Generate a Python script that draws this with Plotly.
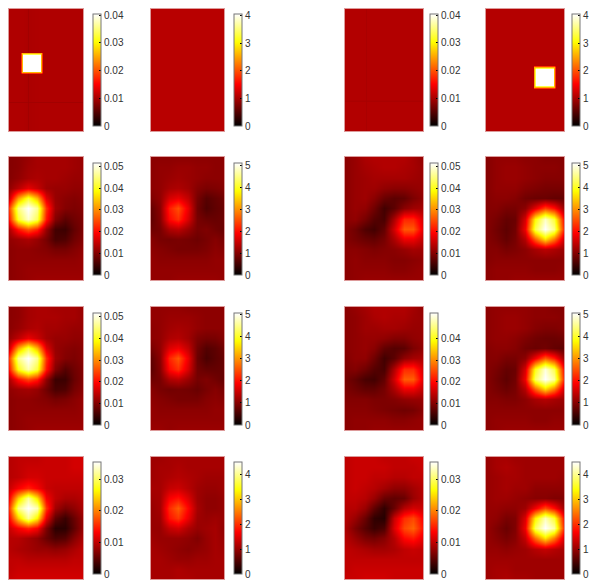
import plotly.graph_objects as go

W, H = 600, 587
HOT = [[0, '#000000'], [0.375, '#ff0000'], [0.75, '#ffff00'], [1, '#ffffff']]

# relative grid positions (left-right, top-bottom) of the sampled fields
GX = [0, .125, .25, .375, .5, .625, .75, .875, 1]
GY = [i / 12 for i in range(13)]

# --- row 1 (values x 1e-3 in column 1/3, plain in column 2/4)
r1c1_x = [0, .15, .17, .19, .25, .26, .27, .415, .435, .455, 1]
r1c1_y = [0, .35, .362, .375, .505, .518, .53, .75, .76, .77, 1]
_b = [10.4, 10.4, 10.4, 10.4, 10.2, 9.6, 10.2, 10.4, 10.4, 10.4, 10.4]
_m = [10.4, 10.4, 26, 26, 26, 26, 26, 26, 26, 10.4, 10.4]
_w = [10.4, 10.4, 26, 40.4, 40.4, 40.4, 40.4, 40.4, 26, 10.4, 10.4]
_l = [9.6, 9.6, 9.6, 9.6, 9.6, 9.4, 9.6, 9.6, 9.6, 9.6, 9.6]
r1c1 = [_b, _b, _m, _w, _w, _m, _b, _b, _l, _b, _b]
r1c2_x = [0, 1]
r1c2_y = [0, 1]
r1c2 = [[1.1, 1.1], [1.1, 1.1]]
r1c3_x = [0, .25, .267, .285, 1]
r1c3_y = [0, .74, .753, .766, 1]
r1c3 = [
 [10.6, 10.6, 10.1, 10.6, 10.6],
 [10.6, 10.6, 10.1, 10.6, 10.6],
 [10.1, 10.1, 10.0, 10.1, 10.1],
 [10.6, 10.6, 10.1, 10.6, 10.6],
 [10.6, 10.6, 10.1, 10.6, 10.6],
]
r1c4_x = [0, .60, .62, .64, .855, .875, .895, 1]
r1c4_y = [0, .462, .476, .49, .625, .64, .655, 1]
r1c4 = [
 [1.08, 1.08, 1.08, 1.08, 1.08, 1.08, 1.08, 1.08],
 [1.08, 1.08, 1.08, 1.08, 1.08, 1.08, 1.08, 1.08],
 [1.08, 1.08, 2.6, 2.6, 2.6, 2.6, 1.08, 1.08],
 [1.08, 1.08, 2.6, 4.07, 4.07, 2.6, 1.08, 1.08],
 [1.08, 1.08, 2.6, 4.07, 4.07, 2.6, 1.08, 1.08],
 [1.08, 1.08, 2.6, 2.6, 2.6, 2.6, 1.08, 1.08],
 [1.08, 1.08, 1.08, 1.08, 1.08, 1.08, 1.08, 1.08],
 [1.08, 1.08, 1.08, 1.08, 1.08, 1.08, 1.08, 1.08],
]

# --- row 2
r2c1 = [
 [10, 10.5, 11.5, 12.5, 12.5, 12.5, 12.5, 12, 11.5],
 [10, 10.5, 12, 12.5, 12.5, 12.5, 12.5, 12, 11.5],
 [10, 11, 12.5, 13, 12.5, 12.5, 12, 11.5, 11.5],
 [11, 14, 17.5, 15, 12, 11.5, 11.5, 11, 11],
 [15, 31, 41, 33, 17, 11.5, 10.5, 10, 10.5],
 [24, 45, 51.5, 46, 23, 12, 10, 9.5, 10],
 [21, 41, 49, 43, 21, 10, 7, 8.5, 9.5],
 [13, 21, 26, 22, 11.5, 5, 4.5, 7.5, 9.5],
 [11, 12, 13, 11.5, 9, 5.5, 6, 8.5, 10],
 [10.5, 11, 11, 10.5, 10, 9, 9, 10, 11],
 [10.5, 11, 11, 11, 11, 11, 11, 11, 11.5],
 [10.5, 11, 11.5, 11.5, 11.5, 11.5, 11.5, 11.5, 11.5],
 [10.5, 11, 11.5, 12, 12, 12, 12, 12, 12],
]
r2c2 = [
 [1.05, 1.05, 1.05, 1.05, 1.05, 1.05, 1.05, 1.05, 1.05],
 [1.05, 1.1, 1.1, 1.15, 1.15, 1.1, 1.1, 1.05, 1.05],
 [1.05, 1.1, 1.15, 1.2, 1.15, 1.1, 1.05, 1.05, 1.05],
 [1.05, 1.1, 1.25, 1.3, 1.2, 1.0, .92, .95, 1.0],
 [.95, 1.1, 1.6, 1.75, 1.45, .9, .65, .75, .85],
 [.75, 1.05, 2.1, 2.5, 1.75, .85, .6, .72, .8],
 [.72, 1.0, 1.95, 2.25, 1.6, .9, .8, .78, .82],
 [.82, .9, 1.3, 1.4, 1.15, .9, .95, .85, .78],
 [1.0, .9, .88, .92, .88, .82, .9, 1.0, .9],
 [1.05, 1.0, .95, .9, .9, .9, .95, 1.05, 1.0],
 [1.1, 1.05, 1.05, 1.05, 1.05, 1.05, 1.05, 1.1, 1.1],
 [1.1, 1.1, 1.1, 1.1, 1.1, 1.1, 1.1, 1.1, 1.1],
 [1.1, 1.1, 1.1, 1.15, 1.15, 1.15, 1.15, 1.15, 1.1],
]
r2c3 = [
 [10.5, 11.5, 13, 13.5, 13.5, 13.5, 13.5, 12.5, 11],
 [10.5, 11.5, 12.5, 13, 13.5, 13.5, 13, 12.5, 11.5],
 [10.5, 11.5, 12, 12.5, 12.5, 12.5, 12.5, 12, 11.5],
 [10.5, 11.5, 12, 12, 11, 10.5, 10.5, 11, 11.5],
 [10.5, 11.5, 12, 10.5, 8, 7, 7.5, 9.5, 11],
 [10.5, 11.5, 11, 8.5, 5, 7, 10.5, 12, 12.5],
 [10.5, 11, 9, 6.5, 5.5, 13, 22, 22, 16],
 [10, 8.5, 6, 5, 7.5, 16, 26, 26, 17],
 [10, 9, 8, 7.5, 9, 13, 18, 18, 14.5],
 [10.5, 10.5, 10, 9.5, 10, 10.5, 11.5, 12.5, 12],
 [10.5, 11, 10.5, 10.5, 10.5, 10, 10, 10.5, 11],
 [10.5, 11, 11, 11, 11, 10.5, 10.5, 11, 11.5],
 [10.5, 11, 11.5, 11.5, 11.5, 11.5, 11.5, 11.5, 11.5],
]
r2c4 = [
 [1.0, 1.1, 1.1, 1.1, 1.05, 1.05, 1.0, 1.0, 1.0],
 [1.0, 1.1, 1.15, 1.15, 1.1, 1.05, 1.05, 1.05, 1.0],
 [1.0, 1.1, 1.15, 1.15, 1.1, 1.05, 1.0, 1.0, 1.0],
 [1.0, 1.1, 1.1, 1.1, 1.0, .95, .9, .9, .9],
 [1.0, 1.05, 1.05, 1.0, .85, .8, .8, .75, .75],
 [1.0, 1.0, .9, .9, 1.05, 1.7, 2.4, 2.0, 1.15],
 [1.0, .9, .75, .8, 1.6, 3.8, 4.8, 4.1, 1.9],
 [1.0, .85, .7, .85, 1.8, 4.2, 5.1, 4.5, 2.1],
 [1.0, .9, .75, .9, 1.35, 2.6, 3.6, 2.8, 1.5],
 [1.0, 1.0, .9, .95, 1.05, 1.25, 1.4, 1.3, 1.15],
 [1.0, 1.05, 1.05, 1.05, 1.05, 1.05, 1.05, 1.05, 1.05],
 [1.05, 1.1, 1.1, 1.1, 1.1, 1.05, 1.05, 1.05, 1.1],
 [1.05, 1.1, 1.1, 1.15, 1.15, 1.15, 1.15, 1.15, 1.15],
]

# --- row 3
r3c1 = [
 [10.5, 11, 12.5, 13, 13, 12.5, 12.5, 12.5, 11.5],
 [10.5, 11, 12.5, 13, 13, 13, 12.5, 12.5, 11.5],
 [10.5, 11.5, 13, 13.5, 12.5, 12.5, 12, 11.5, 11.5],
 [11.5, 14.5, 18, 15.5, 12.5, 11.5, 11.5, 11, 11],
 [15.5, 32, 42, 33, 17, 11.5, 10.5, 10, 10.5],
 [24, 46, 51.8, 46, 23, 12, 10, 9.5, 10.5],
 [21, 40, 48, 42, 21, 10, 6.5, 8.5, 10],
 [13, 20.5, 25, 21.5, 11, 4.5, 4.5, 8, 10],
 [11, 12, 12.5, 11.5, 8.5, 5.5, 6, 9, 10.5],
 [10.5, 11, 11, 10.5, 10, 9, 9.5, 10.5, 11.5],
 [10.5, 11, 11, 11, 11, 11, 11, 11, 11.5],
 [10.5, 11, 11.5, 11.5, 11.5, 11.5, 11.5, 11.5, 11.5],
 [10.5, 11, 11.5, 12, 12, 12, 12, 12, 12],
]
r3c2 = [
 [1.1, 1.1, 1.1, 1.1, 1.05, 1.05, 1.05, 1.05, 1.05],
 [1.1, 1.1, 1.15, 1.15, 1.15, 1.1, 1.05, 1.05, 1.05],
 [1.05, 1.1, 1.2, 1.25, 1.2, 1.1, 1.05, 1.05, 1.05],
 [1.05, 1.1, 1.3, 1.35, 1.2, .95, .88, .9, 1.0],
 [.9, 1.1, 1.65, 1.8, 1.45, .85, .62, .7, .85],
 [.72, 1.05, 2.15, 2.55, 1.75, .8, .55, .68, .78],
 [.68, 1.0, 1.95, 2.25, 1.6, .85, .75, .75, .78],
 [.82, .9, 1.3, 1.4, 1.15, .88, .95, .85, .75],
 [1.0, .9, .85, .88, .85, .78, .9, 1.0, .9],
 [1.05, 1.0, .95, .9, .9, .9, 1.0, 1.05, 1.0],
 [1.1, 1.05, 1.05, 1.05, 1.05, 1.05, 1.05, 1.1, 1.1],
 [1.1, 1.1, 1.1, 1.1, 1.1, 1.1, 1.1, 1.1, 1.1],
 [1.15, 1.15, 1.1, 1.15, 1.15, 1.15, 1.15, 1.15, 1.15],
]
r3c3 = [
 [10.5, 11.5, 12.5, 13.5, 13.5, 13.5, 13.5, 12.5, 11],
 [10.5, 11, 12, 13, 13.5, 13, 13, 12, 11.5],
 [10.5, 11, 12, 12, 12.5, 12.5, 12, 11.5, 11.5],
 [10.5, 11, 11.5, 11.5, 11, 10, 10, 11, 11.5],
 [10.5, 11, 11.5, 10.5, 7.5, 6.5, 7, 9.5, 11],
 [10, 11, 11, 8.5, 5, 7, 11, 12.5, 13],
 [9.5, 10, 8.5, 6.5, 5.5, 13.5, 22.5, 22.5, 16],
 [9, 7.5, 5.5, 5, 7.5, 16, 26.5, 26.5, 17],
 [9.5, 8.5, 7.5, 7.5, 9, 13, 18, 18, 14.5],
 [10, 10, 10, 9.5, 9.5, 10, 11, 11.5, 11.5],
 [10.5, 10.5, 10.5, 10, 9.5, 9, 8.5, 9, 10.5],
 [10.5, 11, 11, 11, 11, 10.5, 10.5, 11, 11.5],
 [10.5, 11, 11, 11.5, 11.5, 11.5, 11.5, 11.5, 11.5],
]
r3c4 = [
 [1.05, 1.1, 1.1, 1.1, 1.1, 1.05, 1.05, 1.0, 1.0],
 [1.05, 1.1, 1.15, 1.15, 1.1, 1.05, 1.05, 1.05, 1.0],
 [1.05, 1.1, 1.15, 1.15, 1.1, 1.0, .95, .95, 1.0],
 [1.05, 1.1, 1.1, 1.05, .95, .85, .8, .8, .85],
 [1.0, 1.05, 1.05, 1.0, .85, .8, .85, .75, .7],
 [1.0, 1.0, .9, .9, 1.05, 1.8, 2.6, 2.1, 1.15],
 [1.0, .9, .75, .8, 1.6, 3.9, 4.9, 4.2, 1.9],
 [1.0, .85, .7, .85, 1.8, 4.3, 5.08, 4.6, 2.1],
 [1.0, .9, .8, .9, 1.35, 2.6, 3.5, 2.8, 1.5],
 [1.0, 1.0, .95, .95, 1.05, 1.25, 1.35, 1.25, 1.15],
 [1.05, 1.05, 1.05, 1.05, 1.05, 1.05, 1.05, 1.05, 1.05],
 [1.05, 1.1, 1.1, 1.1, 1.1, 1.05, 1.05, 1.1, 1.1],
 [1.05, 1.1, 1.15, 1.15, 1.15, 1.15, 1.15, 1.15, 1.15],
]

# --- row 4
r4c1 = [
 [9.5, 10, 10, 10, 10.5, 10.5, 10.5, 11, 11],
 [9.5, 10, 10.5, 10.5, 10.5, 10.5, 10.5, 11, 11],
 [9.5, 10, 11, 11, 10.5, 10.5, 10.5, 10.5, 10.5],
 [10.5, 13, 15, 13, 10.5, 10, 10, 10, 10],
 [13, 24, 32, 25, 13, 10, 9, 9, 9.5],
 [16, 31.5, 35.5, 33, 16, 8.5, 6.5, 7.5, 9],
 [13.5, 24, 32, 26, 12, 5, 3, 5.5, 8],
 [10.5, 13, 15, 13, 6.5, 2.2, 2.2, 5, 8],
 [9.5, 9.5, 8.5, 7.5, 5.5, 4, 4.5, 7, 9],
 [9.5, 9, 8.5, 8, 8, 7.5, 8, 9, 10],
 [10, 10, 9.5, 9.5, 9.5, 9.5, 9.5, 10, 10],
 [10, 10.5, 10.5, 10.5, 10.5, 10.5, 10.5, 10.5, 10.5],
 [10.5, 11, 11, 11, 11, 11, 11, 11, 11],
]
r4c2 = [
 [1.05, 1.05, 1.1, 1.1, 1.1, 1.1, 1.1, 1.1, 1.1],
 [1.05, 1.1, 1.1, 1.15, 1.1, 1.1, 1.1, 1.1, 1.1],
 [1.05, 1.1, 1.15, 1.2, 1.15, 1.1, 1.05, 1.05, 1.05],
 [1.1, 1.1, 1.3, 1.35, 1.2, 1.05, 1.0, 1.0, 1.05],
 [1.05, 1.1, 1.65, 1.8, 1.45, 1.05, .95, .95, 1.0],
 [1.0, 1.1, 1.95, 2.3, 1.7, 1.1, .95, .95, 1.0],
 [1.0, 1.05, 1.8, 2.05, 1.55, 1.05, 1.0, 1.05, 1.0],
 [1.0, 1.0, 1.3, 1.4, 1.15, 1.0, 1.05, 1.1, .95],
 [1.05, 1.0, 1.0, 1.0, .95, .85, 1.0, 1.1, 1.0],
 [1.1, 1.05, 1.0, .95, .9, .95, 1.0, 1.1, 1.05],
 [1.1, 1.1, 1.05, 1.0, 1.0, 1.05, 1.05, 1.1, 1.1],
 [1.1, 1.1, 1.1, 1.15, 1.1, 1.1, 1.1, 1.1, 1.1],
 [1.1, 1.1, 1.1, 1.15, 1.15, 1.1, 1.1, 1.1, 1.1],
]
r4c3 = [
 [10, 10.5, 10.5, 10.5, 10, 10, 10, 10.5, 10.5],
 [10, 10.5, 10.5, 10.5, 10.5, 10, 10, 10, 10.5],
 [10, 10.5, 10.5, 10, 10, 9.5, 9.5, 10, 10],
 [10, 10.5, 10, 9.5, 8.5, 7.5, 7.5, 8.5, 9.5],
 [10, 10, 9.5, 8, 5.5, 5, 5.5, 8, 9.5],
 [9.5, 9.5, 8, 5, 2.5, 5.5, 9.5, 11, 10.5],
 [9.5, 8, 5.5, 2.5, 2, 10.5, 15.5, 17, 13],
 [9, 6.5, 4.5, 3, 4, 11.5, 17, 18.5, 14],
 [9.5, 8, 6.5, 6, 7, 9.5, 13.5, 14.5, 12],
 [10, 9.5, 9, 8.5, 8.5, 9, 10, 10.5, 10],
 [10, 10, 10, 10, 10, 10, 10, 10, 10],
 [10, 10.5, 10.5, 10.5, 10.5, 10.5, 10.5, 10.5, 10.5],
 [10.5, 10.5, 11, 11, 11, 10.5, 10.5, 10.5, 10.5],
]
r4c4 = [
 [1.0, 1.1, 1.1, 1.05, 1.05, 1.05, 1.05, 1.05, 1.05],
 [1.0, 1.1, 1.15, 1.1, 1.05, 1.05, 1.05, 1.05, 1.05],
 [1.0, 1.05, 1.1, 1.1, 1.05, 1.05, 1.05, 1.05, 1.0],
 [1.0, 1.05, 1.1, 1.05, 1.05, .95, .95, .95, .95],
 [1.0, 1.05, 1.05, 1.0, .95, .9, .9, .85, .85],
 [1.0, 1.0, .95, .95, 1.05, 1.6, 2.2, 1.75, 1.05],
 [1.0, .95, .8, .85, 1.45, 3.3, 4.2, 3.6, 1.7],
 [1.0, .85, .7, .85, 1.6, 3.8, 4.51, 4.1, 1.9],
 [1.0, .9, .8, .9, 1.3, 2.4, 3.2, 2.5, 1.4],
 [1.0, 1.0, .95, 1.0, 1.05, 1.2, 1.3, 1.2, 1.1],
 [1.05, 1.05, 1.05, 1.05, 1.05, 1.05, 1.05, 1.05, 1.05],
 [1.05, 1.1, 1.1, 1.05, 1.05, 1.05, 1.05, 1.05, 1.05],
 [1.05, 1.1, 1.15, 1.1, 1.1, 1.05, 1.05, 1.05, 1.05],
]

FIELDS = [r1c1, r1c2, r1c3, r1c4,
          r2c1, r2c2, r2c3, r2c4,
          r3c1, r3c2, r3c3, r3c4,
          r4c1, r4c2, r4c3, r4c4]
GRIDS_X = [r1c1_x, r1c2_x, r1c3_x, r1c4_x] + [GX] * 12
GRIDS_Y = [r1c1_y, r1c2_y, r1c3_y, r1c4_y] + [GY] * 12

# scale of the colour bars (same units as the fields)
TOPS = [40.4, 4.07, 40.4, 4.07,
        51.5, 5.1, 51.5, 5.1,
        51.8, 5.08, 51.8, 5.08,
        35.5, 4.51, 35.5, 4.51]
TICKS_MILLI = [[0, 10, 20, 30, 40], [0, 10, 20, 30, 40, 50], [0, 10, 20, 30, 40, 50],
               [0, 10, 20, 30]]
TICKS_MILLI_R3C3 = [0, 10, 20, 30, 40]
TICKS_ONE = [[0, 1, 2, 3, 4], [0, 1, 2, 3, 4, 5], [0, 1, 2, 3, 4, 5], [0, 1, 2, 3, 4]]

# page layout in pixels: (left, right) and (top, bottom)
PANEL_X = [(9, 83), (151, 224), (345, 423), (486, 564)]
PANEL_Y = [(9, 131), (157, 280), (307, 430), (457, 579)]
BAR_X = [93, 234, 430, 572]
BAR_Y = [(14, 126), (163.5, 275), (313, 425), (462, 574)]

fig = go.Figure()
layout = {}
for idx, z in enumerate(FIELDS):
    r, c = idx // 4, idx % 4
    name = '' if idx == 0 else str(idx + 1)
    x0, x1 = PANEL_X[c]
    y0, y1 = PANEL_Y[r]
    milli = c in (0, 2)
    if milli:
        vals = TICKS_MILLI_R3C3 if (r, c) == (2, 2) else TICKS_MILLI[r]
        text = ['0' if v == 0 else f'{v / 1000:g}' for v in vals]
    else:
        vals = TICKS_ONE[r]
        text = [str(v) for v in vals]
    by0, by1 = BAR_Y[r]
    fig.add_trace(go.Heatmap(
        z=z, x=GRIDS_X[idx], y=GRIDS_Y[idx], xaxis=f'x{name}', yaxis=f'y{name}',
        zmin=0, zmax=TOPS[idx], colorscale=HOT, zsmooth='best', hoverinfo='skip',
        colorbar=dict(
            x=BAR_X[c] / W, xanchor='left', y=1 - by1 / H, yanchor='bottom',
            len=by1 - by0, lenmode='pixels', thickness=8, thicknessmode='pixels',
            xpad=0, ypad=0, outlinecolor='#777777', outlinewidth=1, borderwidth=0,
            tickmode='array', tickvals=vals, ticktext=text,
            ticks='inside', ticklen=2, tickwidth=1, tickcolor='#000000',
            tickfont=dict(family='Liberation Sans', size=10, color='#333333'),
        )))
    common = dict(showticklabels=False, ticks='', showgrid=False, zeroline=False,
                  showline=True, mirror=True, linecolor='#dd9a9a', linewidth=1,
                  fixedrange=True)
    layout[f'xaxis{name}'] = dict(domain=[x0 / W, x1 / W], range=[0, 1],
                                  anchor=f'y{name}', **common)
    layout[f'yaxis{name}'] = dict(domain=[1 - y1 / H, 1 - y0 / H], range=[1, 0],
                                  anchor=f'x{name}', **common)

fig.update_layout(width=W, height=H, paper_bgcolor='white', plot_bgcolor='white',
                  margin=dict(l=0, r=0, t=0, b=0, autoexpand=False),
                  showlegend=False, **layout)
fig.write_html('out.html', config={'displayModeBar': False},
               post_script="document.body.style.margin='0';")
